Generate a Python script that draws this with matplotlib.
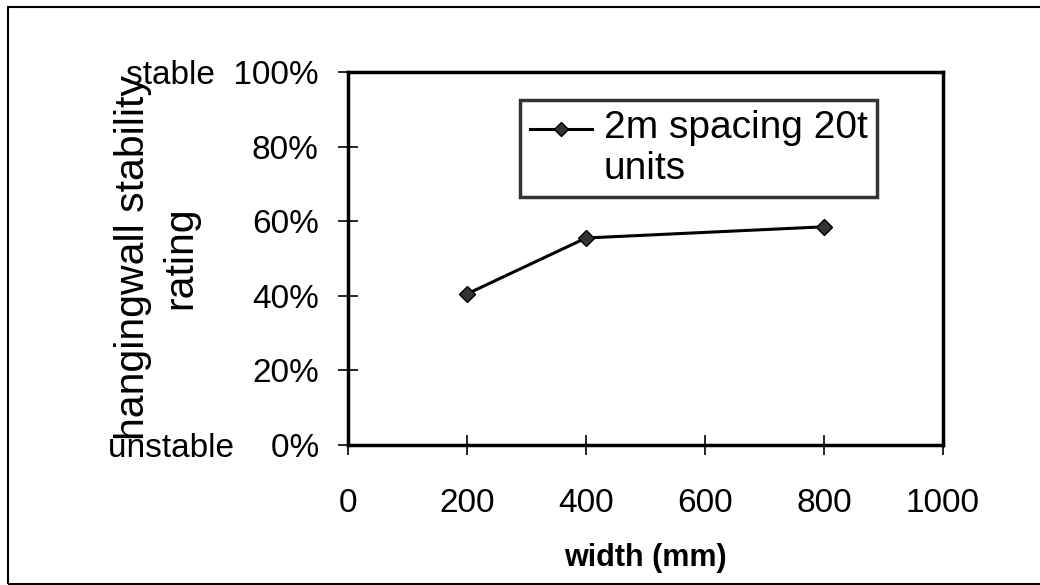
import matplotlib
matplotlib.use('Agg')
import matplotlib.pyplot as plt
import numpy as np
from matplotlib.patches import Rectangle
from matplotlib.legend_handler import HandlerLine2D

plt.rcParams['font.family'] = ['Liberation Sans', 'DejaVu Sans']

# stability rating vs opening width
widths = [200, 400, 800]
rating = [40.5, 55.5, 58.5]
series_label = '2m spacing 20t\nunits'

x_ticks = [0, 200, 400, 600, 800, 1000]
y_ticks = [0, 20, 40, 60, 80, 100]
y_tick_labels = ['unstable    0%', '20%', '40%', '60%', '80%', 'stable  100%']


class FirstLineHandler(HandlerLine2D):
    """Line handle that sits level with the first line of a two-line label."""

    def create_artists(self, legend, orig_handle, xdescent, ydescent,
                       width, height, fontsize, trans):
        arts = super().create_artists(legend, orig_handle, xdescent, ydescent,
                                      width, height, fontsize, trans)
        for a in arts:
            a.set_ydata(np.asarray(a.get_ydata()) + 14)
        return arts


fig = plt.figure(figsize=(10.4, 5.85), dpi=100)
ax = fig.add_axes([348 / 1040, 1 - 445 / 585, (943 - 348) / 1040, (445 - 72) / 585])

line, = ax.plot(widths, rating, color='black', linewidth=2.2,
                marker='D', markersize=8.5, markerfacecolor='#333333',
                markeredgecolor='black', label=series_label)

ax.set_xlim(0, 1000)
ax.set_ylim(0, 100)
ax.set_xticks(x_ticks)
ax.set_yticks(y_ticks)
ax.set_yticklabels(y_tick_labels)

for side in ax.spines.values():
    side.set_linewidth(2.5)

ax.tick_params(axis='both', direction='inout', length=14, width=1.2,
               labelsize=24, color='black')
ax.tick_params(axis='x', pad=24)
ax.tick_params(axis='y', pad=14)

ax.set_xlabel('width (mm)', fontsize=22, fontweight='bold', labelpad=17)

# two-line axis title drawn straight on the figure
fig.text(157 / 1040, 1 - 258 / 585, 'hangingwall stability\nrating',
         rotation=90, ha='center', va='center', fontsize=29.5,
         linespacing=1.3)

leg = ax.legend(loc='upper left', bbox_to_anchor=((520 - 348) / 595, (445 - 100) / 373),
                fontsize=28, frameon=True, fancybox=False, borderpad=0.25,
                handlelength=1.6, handletextpad=0.3, labelspacing=0.2,
                borderaxespad=0, markerscale=0.8,
                handler_map={line: FirstLineHandler()})
leg.get_frame().set_edgecolor('black')
leg.get_frame().set_linewidth(2.5)
for t in leg.get_texts():
    t.set_linespacing(1.2)

# outer chart border
fig.patches.append(Rectangle((8 / 1040, 1 - 584 / 585), 1.1, (584 - 7) / 585,
                             transform=fig.transFigure, fill=False,
                             edgecolor='black', linewidth=1.5))

fig.savefig('out.png', dpi=100)
